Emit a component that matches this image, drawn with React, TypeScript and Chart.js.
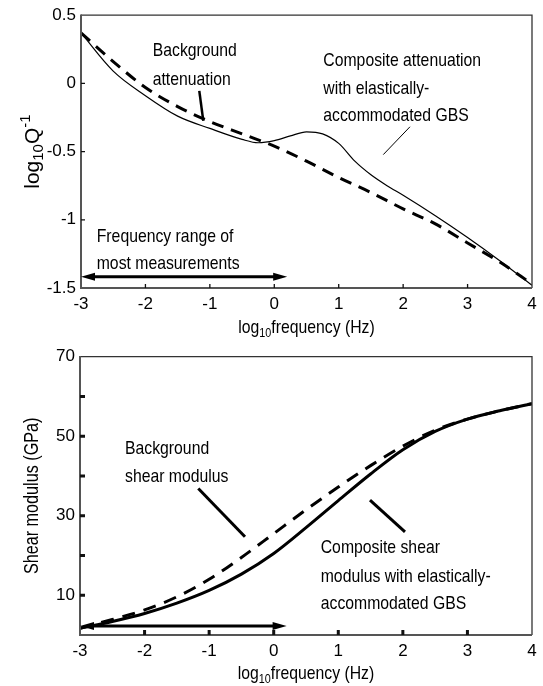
import React, { useEffect, useRef } from 'react';
import { Chart, registerables } from 'chart.js';

Chart.register(...registerables);

const FONT = "'Liberation Sans', Arial, sans-serif";
// annotation text is set in a condensed cut of the face
const CONDENSE = 0.83;

// ---- Upper panel: attenuation, log10 Q^-1 versus log10 frequency ----
const logFreq = [-3, -2.5, -2, -1.5, -1, -0.5, 0, 0.5, 1, 1.5, 2, 2.5, 3, 3.5, 4];
const backgroundAttenuation = [0.37, 0.16, -0.03, -0.17, -0.28, -0.37, -0.46, -0.57, -0.69, -0.8, -0.92, -1.03, -1.17, -1.31, -1.47];
const compositeFreq = [-3, -2.5, -2, -1.5, -1, -0.5, -0.25, 0, 0.25, 0.5, 0.75, 1, 1.25, 1.5, 1.75, 2, 2.5, 3, 3.5, 4];
const compositeAttenuation = [0.37, 0.09, -0.09, -0.24, -0.33, -0.41, -0.435, -0.42, -0.385, -0.355, -0.37, -0.44, -0.57, -0.67, -0.75, -0.82, -0.97, -1.13, -1.3, -1.48];
const attenuationTicks = [-1.5, -1, -0.5, 0, 0.5];

// ---- Lower panel: shear modulus (GPa) versus log10 frequency ----
const backgroundModulus = [1.7, 3.9, 6.3, 9.6, 14.0, 19.5, 25.5, 31.5, 37.2, 42.6, 47.5, 51.5, 54.3, 56.4, 58.2];
const compositeModulus = [1.7, 3.4, 5.4, 8.0, 11.2, 15.3, 20.5, 27.0, 33.8, 40.5, 46.6, 51.2, 54.3, 56.4, 58.2];
const modulusTicks = [10, 20, 30, 40, 50, 60, 70];
const modulusLabelled = [10, 30, 50, 70];

const freqTicks = [-3, -2, -1, 0, 1, 2, 3, 4];
// span (log10 Hz) covered by most laboratory measurements
const measuredRange = [-3, 0.2];

type Part = { text: string; size: number; dy?: number };
type Note = { lines: string[]; x: number; y: number[] };
type Leader = { from: [number, number]; to: [number, number]; width: number };
type Decor = {
  xTitle: Part[];
  yTitle: Part[];
  yTitleCondense: number;
  xTitleBaseline: number;
  yTitleX: number;
  frameWidth: number;
  tickLen: number;
  tickWidth: number;
  notes: Note[];
  leaders: Leader[];
  arrowY: number;
};

function drawParts(ctx: CanvasRenderingContext2D, parts: Part[], cx: number, baseline: number, sx: number) {
  const widths = parts.map((p) => {
    ctx.font = `${p.size}px ${FONT}`;
    return ctx.measureText(p.text).width * sx;
  });
  const total = widths.reduce((a, b) => a + b, 0);
  let x = cx - total / 2;
  parts.forEach((p, i) => {
    ctx.font = `${p.size}px ${FONT}`;
    ctx.save();
    ctx.translate(x, baseline + (p.dy || 0));
    ctx.scale(sx, 1);
    ctx.fillText(p.text, 0, 0);
    ctx.restore();
    x += widths[i];
  });
}

function decorPlugin(d: Decor) {
  return {
    id: 'panelDecor',
    afterDatasetsDraw(chart: any) {
      const ctx: CanvasRenderingContext2D = chart.ctx;
      const { left, right, top, bottom } = chart.chartArea;
      const xs = chart.scales.x;
      const ys = chart.scales.y;
      ctx.save();
      ctx.fillStyle = '#000';
      ctx.lineCap = 'butt';

      // frame: darker left/bottom axes, lighter top/right edges
      ctx.strokeStyle = '#333';
      ctx.lineWidth = 1.3;
      ctx.beginPath();
      ctx.moveTo(left, top);
      ctx.lineTo(right, top);
      ctx.lineTo(right, bottom);
      ctx.stroke();
      ctx.strokeStyle = '#555';
      ctx.lineWidth = d.frameWidth;
      ctx.beginPath();
      ctx.moveTo(left, top - 0.6);
      ctx.lineTo(left, bottom);
      ctx.lineTo(right, bottom);
      ctx.stroke();

      // inward tick marks
      ctx.strokeStyle = '#111';
      ctx.lineWidth = d.tickWidth;
      ctx.beginPath();
      xs.ticks.forEach((t: any) => {
        const px = xs.getPixelForValue(t.value);
        if (px <= left + 1 || px >= right - 1) return;
        ctx.moveTo(px, bottom);
        ctx.lineTo(px, bottom - d.tickLen);
      });
      ys.ticks.forEach((t: any) => {
        const py = ys.getPixelForValue(t.value);
        if (py <= top + 1 || py >= bottom - 1) return;
        ctx.moveTo(left, py);
        ctx.lineTo(left + d.tickLen, py);
      });
      ctx.stroke();

      // double-headed arrow marking the measured frequency range
      const ax0 = xs.getPixelForValue(measuredRange[0]);
      const ax1 = xs.getPixelForValue(measuredRange[1]);
      const ay = ys.getPixelForValue(d.arrowY);
      const head = 14;
      const half = 4;
      ctx.strokeStyle = '#000';
      ctx.lineWidth = 3;
      ctx.beginPath();
      ctx.moveTo(ax0 + head - 2, ay);
      ctx.lineTo(ax1 - head + 2, ay);
      ctx.stroke();
      ctx.beginPath();
      ctx.moveTo(ax0, ay);
      ctx.lineTo(ax0 + head, ay - half);
      ctx.lineTo(ax0 + head, ay + half);
      ctx.closePath();
      ctx.moveTo(ax1, ay);
      ctx.lineTo(ax1 - head, ay - half);
      ctx.lineTo(ax1 - head, ay + half);
      ctx.closePath();
      ctx.fill();

      // leader lines from the notes to the curves
      d.leaders.forEach((l) => {
        ctx.lineWidth = l.width;
        ctx.beginPath();
        ctx.moveTo(xs.getPixelForValue(l.from[0]), ys.getPixelForValue(l.from[1]));
        ctx.lineTo(xs.getPixelForValue(l.to[0]), ys.getPixelForValue(l.to[1]));
        ctx.stroke();
      });

      // notes
      ctx.textAlign = 'left';
      ctx.textBaseline = 'alphabetic';
      ctx.font = `19px ${FONT}`;
      d.notes.forEach((n) => {
        const px = xs.getPixelForValue(n.x);
        n.lines.forEach((line, i) => {
          ctx.save();
          ctx.translate(px, ys.getPixelForValue(n.y[i]));
          ctx.scale(CONDENSE, 1);
          ctx.fillText(line, 0, 0);
          ctx.restore();
        });
      });

      // axis titles (with sub/superscripts)
      drawParts(ctx, d.xTitle, (left + right) / 2, d.xTitleBaseline, CONDENSE);
      ctx.translate(d.yTitleX, (top + bottom) / 2);
      ctx.rotate(-Math.PI / 2);
      drawParts(ctx, d.yTitle, 0, 0, d.yTitleCondense);
      ctx.restore();
    },
  };
}

const freqTitle: Part[] = [
  { text: 'log', size: 19 },
  { text: '10', size: 13, dy: 4 },
  { text: 'frequency (Hz)', size: 19 },
];

function series(xsArr: number[], ysArr: number[], dashed: number[], width: number) {
  return {
    data: xsArr.map((x, i) => ({ x, y: ysArr[i] })),
    borderColor: '#000',
    borderWidth: width,
    borderDash: dashed,
    pointRadius: 0,
    fill: false,
    cubicInterpolationMode: 'monotone' as const,
  };
}

function axes(yMin: number, yMax: number, yTicks: number[], yLabel: (v: number) => string, yWidth: number, xHeight: number) {
  const tickFont = { family: FONT, size: 17 };
  return {
    x: {
      type: 'linear' as const,
      min: -3,
      max: 4,
      afterBuildTicks: (s: any) => {
        s.ticks = freqTicks.map((v) => ({ value: v }));
      },
      afterFit: (s: any) => {
        s.height = xHeight;
      },
      grid: { display: false, drawTicks: false },
      border: { display: false },
      ticks: { font: tickFont, color: '#000', padding: 6, maxRotation: 0, autoSkip: false },
    },
    y: {
      type: 'linear' as const,
      min: yMin,
      max: yMax,
      afterBuildTicks: (s: any) => {
        s.ticks = yTicks.map((v) => ({ value: v }));
      },
      afterFit: (s: any) => {
        s.width = yWidth;
      },
      grid: { display: false, drawTicks: false },
      border: { display: false },
      ticks: {
        font: tickFont,
        color: '#000',
        padding: 5,
        autoSkip: false,
        callback: (v: any) => yLabel(Number(v)),
      },
    },
  };
}

function AttenuationPanel() {
  const ref = useRef<HTMLCanvasElement>(null);
  useEffect(() => {
    const chart = new Chart(ref.current!, {
      type: 'line',
      data: {
        datasets: [
          series(logFreq, backgroundAttenuation, [12, 8], 3),
          series(compositeFreq, compositeAttenuation, [], 1.2),
        ],
      },
      options: {
        responsive: false,
        animation: false,
        devicePixelRatio: 1,
        layout: { padding: { left: 0, right: 11, top: 14, bottom: 0 } },
        plugins: { legend: { display: false }, tooltip: { enabled: false } },
        scales: axes(-1.5, 0.5, attenuationTicks, (v) => String(v), 81, 52) as any,
      },
      plugins: [
        decorPlugin({
          xTitle: freqTitle,
          yTitle: [
            { text: 'log', size: 21 },
            { text: '10', size: 15, dy: 4 },
            { text: 'Q', size: 21 },
            { text: '-1', size: 15, dy: -9 },
          ],
          yTitleCondense: 1,
          xTitleBaseline: 333,
          yTitleX: 39,
          frameWidth: 2,
          tickLen: 4,
          tickWidth: 1.3,
          arrowY: -1.417,
          notes: [
            { lines: ['Background', 'attenuation'], x: -1.887, y: [0.2, -0.011] },
            { lines: ['Composite attenuation', 'with elastically-', 'accommodated GBS'], x: 0.761, y: [0.128, -0.079, -0.279] },
            { lines: ['Frequency range of', 'most measurements'], x: -2.756, y: [-1.162, -1.364] },
          ],
          leaders: [
            { from: [-1.164, -0.055], to: [-1.102, -0.274], width: 2.5 },
            { from: [2.106, -0.318], to: [1.692, -0.522], width: 1 },
          ],
        }),
      ],
    });
    return () => chart.destroy();
  }, []);
  return <canvas ref={ref} width={543} height={340} style={{ display: 'block' }} />;
}

function ModulusPanel() {
  const ref = useRef<HTMLCanvasElement>(null);
  useEffect(() => {
    const chart = new Chart(ref.current!, {
      type: 'line',
      data: {
        datasets: [
          series(logFreq, backgroundModulus, [13, 9], 3),
          series(logFreq, compositeModulus, [], 3),
        ],
      },
      options: {
        responsive: false,
        animation: false,
        devicePixelRatio: 1,
        layout: { padding: { left: 0, right: 11, top: 16.7, bottom: 0 } },
        plugins: { legend: { display: false }, tooltip: { enabled: false } },
        scales: axes(0, 70, modulusTicks, (v) => (modulusLabelled.includes(v) ? String(v) : ''), 80, 51) as any,
      },
      plugins: [
        decorPlugin({
          xTitle: freqTitle,
          yTitle: [{ text: 'Shear modulus (GPa)', size: 19.5 }],
          yTitleCondense: CONDENSE,
          xTitleBaseline: 339,
          yTitleX: 37.5,
          frameWidth: 2,
          tickLen: 5,
          tickWidth: 3,
          arrowY: 2.26,
          notes: [
            { lines: ['Background', 'shear modulus'], x: -2.303, y: [45.65, 38.52] },
            { lines: ['Composite shear', 'modulus with elastically-', 'accommodated GBS'], x: 0.728, y: [20.68, 13.39, 6.46] },
          ],
          leaders: [
            { from: [-1.168, 36.86], to: [-0.445, 24.7], width: 3 },
            { from: [1.491, 33.9], to: [2.033, 25.96], width: 3 },
          ],
        }),
      ],
    });
    return () => chart.destroy();
  }, []);
  return <canvas ref={ref} width={543} height={346} style={{ display: 'block' }} />;
}

export default function App() {
  return (
    <div style={{ position: 'absolute', left: 0, top: 0, width: 543, height: 686, background: '#fff' }}>
      <AttenuationPanel />
      <ModulusPanel />
    </div>
  );
}
